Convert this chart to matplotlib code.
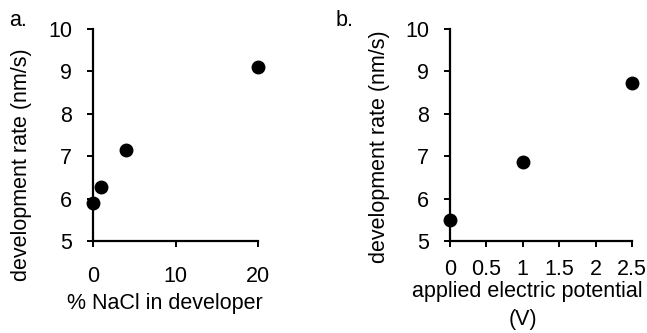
import matplotlib
matplotlib.use('Agg')
import matplotlib.pyplot as plt

# panel a: NaCl concentration
nacl_pct = [0, 1, 4, 20]
nacl_rate = [5.9, 6.27, 7.15, 9.1]

# panel b: applied potential
volts = [0, 1, 2.5]
volt_rate = [5.5, 6.87, 8.73]

yticks = [5, 6, 7, 8, 9, 10]
nacl_ticks = [0, 10, 20]
volt_ticks = [0, 0.5, 1, 1.5, 2, 2.5]
volt_ticklabels = ['0', '0.5', '1', '1.5', '2', '2.5']

plt.rcParams['font.family'] = ['Liberation Sans', 'DejaVu Sans']
fs = 15.5

fig = plt.figure(figsize=(6.47, 3.33), dpi=100)
W, H = 647.0, 333.0


def axes_px(x0, x1, ytop, ybot):
    return fig.add_axes([x0 / W, 1 - ybot / H, (x1 - x0) / W, (ybot - ytop) / H])


def style(ax, xpad):
    for s in ['top', 'right']:
        ax.spines[s].set_visible(False)
    for s in ['left', 'bottom']:
        ax.spines[s].set_linewidth(1.6)
    ax.tick_params(axis='both', direction='out', length=4, width=1.4, labelsize=fs)
    ax.tick_params(axis='y', pad=11)
    ax.tick_params(axis='x', pad=xpad)
    ax.set_ylim(5, 10)
    ax.set_yticks(yticks)


ax1 = axes_px(93, 258, 29, 241)
ax1.plot(nacl_pct, nacl_rate, 'o', color='black', ms=9, clip_on=False, zorder=5)
ax1.set_xlim(0, 20)
ax1.set_xticks(nacl_ticks)
style(ax1, 14)

ax2 = axes_px(450, 632, 29, 241)
ax2.plot(volts, volt_rate, 'o', color='black', ms=9, clip_on=False, zorder=5)
ax2.set_xlim(0, 2.5)
ax2.set_xticks(volt_ticks)
ax2.set_xticklabels(volt_ticklabels)
style(ax2, 9)

# axis labels and panel letters
fig.text(22 / W, 1 - 165 / H, 'development rate (nm/s)', rotation=90,
         ha='center', va='center', fontsize=fs)
fig.text(380 / W, 1 - 147 / H, 'development rate (nm/s)', rotation=90,
         ha='center', va='center', fontsize=fs)
fig.text(165 / W, 1 - 304 / H, '% NaCl in developer', ha='center', va='center', fontsize=fs)
fig.text(527 / W, 1 - 291 / H, 'applied electric potential', ha='center', va='center', fontsize=fs)
fig.text(523 / W, 1 - 319 / H, '(V)', ha='center', va='center', fontsize=fs)
fig.text(18 / W, 1 - 20 / H, 'a.', ha='center', va='center', fontsize=fs)
fig.text(345 / W, 1 - 20 / H, 'b.', ha='center', va='center', fontsize=fs)

plt.savefig('out.png', dpi=100)
